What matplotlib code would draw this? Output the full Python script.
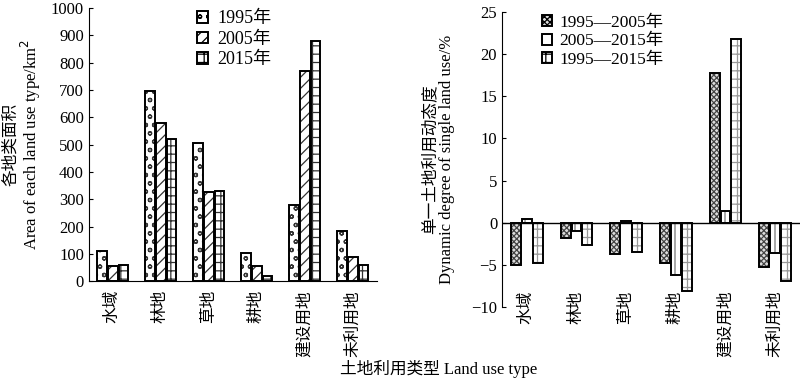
import numpy as np
import matplotlib
matplotlib.use("Agg")
import matplotlib.pyplot as plt

plt.rcParams['font.family'] = ['Liberation Serif', 'Noto Sans CJK SC']
plt.rcParams['font.size'] = 12
plt.rcParams['axes.unicode_minus'] = True
plt.rcParams['hatch.linewidth'] = 0.9

# data
categories = ['水域', '林地', '草地', '耕地', '建设用地', '未利用地']
area_1995 = [110, 695, 505, 103, 278, 185]
area_2005 = [55, 578, 325, 55, 770, 90]
area_2015 = [58, 522, 330, 20, 880, 58]
area_labels = ['1995年', '2005年', '2015年']

dyn_95_05 = [-5.0, -1.8, -3.7, -4.8, 17.8, -5.2]
dyn_05_15 = [0.45, -1.0, 0.15, -6.2, 1.45, -3.6]
dyn_95_15 = [-4.8, -2.6, -3.5, -8.1, 21.8, -6.9]
dyn_labels = ['1995—2005年', '2005—2015年', '1995—2015年']

x = np.arange(len(categories))
w = 0.2
step = 0.22

fig = plt.figure(figsize=(8, 3.82), dpi=100)
ax = fig.add_axes([0.111, 0.264, 0.36, 0.715])
ay = fig.add_axes([0.6275, 0.196, 0.3725, 0.773])


def hatched_bars(a, xs, vals, hatch, hcolor, fcolor, label):
    a.bar(xs, vals, w, color=fcolor, edgecolor=hcolor, hatch=hatch, linewidth=0)
    a.bar(xs, vals, w, fill=False, edgecolor='black', linewidth=1.4)
    return a.bar([0], [0], w, color=fcolor, edgecolor='black', hatch=hatch,
                 linewidth=1.4, label=label)


# left panel: areas
left_series = [area_1995, area_2005, area_2015]
left_hatch = ['oo', '///', '++']
for k, vals in enumerate(left_series):
    hatched_bars(ax, x + (k - 1) * step, vals, left_hatch[k], '#333333', 'white',
                 area_labels[k])

ax.set_xlim(-0.5, 5.5)
ax.set_ylim(0, 1000)
ax.set_yticks(np.arange(0, 1001, 100))
ax.set_xticks(x)
ax.set_xticklabels(categories, rotation=90)
ax.tick_params(axis='x', length=0, pad=6.5)
ax.tick_params(axis='y', direction='in', length=3)
ax.spines['top'].set_visible(False)
ax.spines['right'].set_visible(False)
ax.set_ylabel('各地类面积\nArea of each land use type/km$^2$', linespacing=1.0)
ax.yaxis.set_label_coords(-0.158, 0.5)
ax.legend(loc='upper left', bbox_to_anchor=(0.345, 1.025), frameon=False,
          handlelength=0.6, handleheight=0.6, handletextpad=0.5,
          labelspacing=0.2, borderpad=0, fontsize=13)

# right panel: dynamic degree
right_series = [dyn_95_05, dyn_05_15, dyn_95_15]
right_hatch = ['xxxxxx', '|', '++']
right_hcol = ['#444444', '#777777', '#999999']
right_face = ['#dddddd', 'white', 'white']
for k, vals in enumerate(right_series):
    hatched_bars(ay, x + (k - 1) * step, vals, right_hatch[k], right_hcol[k],
                 right_face[k], dyn_labels[k])

ay.axhline(0, color='black', linewidth=1)
ay.set_xlim(-0.5, 5.5)
ay.set_ylim(-10, 25)
ay.set_yticks(np.arange(-10, 26, 5))
ay.set_xticks(x)
ay.set_xticklabels(categories, rotation=90)
ay.tick_params(axis='x', length=0, pad=-12)
ay.tick_params(axis='y', direction='in', length=3)
for s in ['top', 'right', 'bottom']:
    ay.spines[s].set_visible(False)
ay.set_ylabel('单一土地利用动态度\nDynamic degree of single land use/%', linespacing=1.05)
ay.yaxis.set_label_coords(-0.158, 0.5)
ay.legend(loc='upper left', bbox_to_anchor=(0.105, 1.02), frameon=False,
          handlelength=0.6, handleheight=0.6, handletextpad=0.4,
          labelspacing=0.15, borderpad=0, fontsize=12.5)

fig.text(0.548, 0.035, '土地利用类型 Land use type', ha='center', va='center')

fig.savefig('out.png', dpi=100)
